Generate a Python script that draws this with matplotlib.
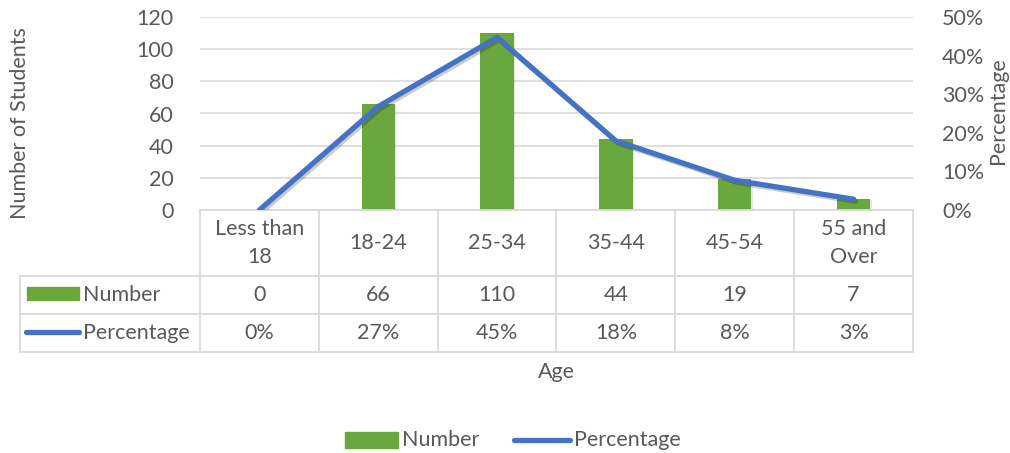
import numpy as np
import matplotlib.pyplot as plt
import matplotlib.patheffects as pe
from matplotlib.lines import Line2D
from matplotlib.patches import Rectangle

# data
age_groups = ["Less than\n18", "18-24", "25-34", "35-44", "45-54", "55 and\nOver"]
number = [0, 66, 110, 44, 19, 7]
percentage = [0.0, 0.268, 0.447, 0.179, 0.077, 0.028]
number_labels = ["0", "66", "110", "44", "19", "7"]
pct_labels = ["0%", "27%", "45%", "18%", "8%", "3%"]

green = "#6aa83f"
blue = "#4472c4"
grey_txt = "#595959"
grid_c = "#d9d9d9"
fs = 15.5

plt.rcParams['font.family'] = ['Lato', 'DejaVu Sans']

W, H = 1010, 453
fig = plt.figure(figsize=(W / 100, H / 100), dpi=100)

# plot area in pixels
x0, x1, ytop, ybot = 200, 913, 17, 210
ax = fig.add_axes([x0 / W, 1 - ybot / H, (x1 - x0) / W, (ybot - ytop) / H])
n = len(age_groups)
x = np.arange(n)

ax.bar(x, number, width=0.28, color=green, zorder=2,
       path_effects=[pe.SimplePatchShadow(offset=(1, -1), alpha=0.12), pe.Normal()])
ax.set_xlim(-0.5, n - 0.5)
ax.set_ylim(0, 120)
ax.set_yticks(range(0, 121, 20))
ax.grid(axis='y', color=grid_c, lw=1.2, zorder=0)
for s in ax.spines.values():
    s.set_visible(False)
ax.tick_params(axis='y', length=0, labelsize=fs, labelcolor=grey_txt, pad=19)
ax.set_xticks([])

ax2 = ax.twinx()
ax2.plot(x, percentage, color=blue, lw=3.8, solid_capstyle='round', zorder=3,
         path_effects=[pe.SimpleLineShadow(offset=(1.5, -1.5), alpha=0.2), pe.Normal()])
ax2.set_ylim(0, 0.5)
ax2.set_yticks(np.arange(0, 0.51, 0.1))
ax2.set_yticklabels([f"{int(round(v * 100))}%" for v in np.arange(0, 0.51, 0.1)])
for s in ax2.spines.values():
    s.set_visible(False)
ax2.tick_params(axis='y', length=0, labelsize=fs, labelcolor=grey_txt, pad=21)

fig.text(20 / W, 1 - 123 / H, "Number of Students", rotation=90, ha='center', va='center',
         fontsize=fs, color=grey_txt)
fig.text(998 / W, 1 - 111 / H, "Percentage", rotation=90, ha='center', va='center',
         fontsize=fs, color=grey_txt)

# data table below the plot (x in data units, y in axes fraction)
tr = ax.get_xaxis_transform()
ph = ybot - ytop
y_head = -(276 - ybot) / ph
y_num = -(314 - ybot) / ph
y_pct = -(352 - ybot) / ph
xl = (20 - x0) / ((x1 - x0) / n) - 0.5
lkw = dict(transform=tr, color=grid_c, lw=1.3, clip_on=False)

ax.add_line(Line2D([-0.5, n - 0.5], [0, 0], **lkw))
for yy in [y_head, y_num, y_pct]:
    ax.add_line(Line2D([xl, n - 0.5], [yy, yy], **lkw))
for i in range(n + 1):
    ax.add_line(Line2D([i - 0.5, i - 0.5], [0, y_pct], **lkw))
ax.add_line(Line2D([xl, xl], [y_head, y_pct], **lkw))

for i in range(n):
    ax.text(i, y_head / 2, age_groups[i], transform=tr, ha='center', va='center',
            fontsize=fs, color=grey_txt, linespacing=1.45)
    ax.text(i, (y_head + y_num) / 2, number_labels[i], transform=tr, ha='center',
            va='center', fontsize=fs, color=grey_txt)
    ax.text(i, (y_num + y_pct) / 2, pct_labels[i], transform=tr, ha='center',
            va='center', fontsize=fs, color=grey_txt)

# legend keys inside the table
cw = (x1 - x0) / n
def px2x(px):
    return (px - x0) / cw - 0.5
def py2y(py):
    return -(py - ybot) / ph

ax.add_patch(Rectangle((px2x(27), py2y(300)), px2x(79) - px2x(27), py2y(287) - py2y(300),
                       transform=tr, color=green, clip_on=False))
ax.text(px2x(83), (y_head + y_num) / 2, "Number", transform=tr, ha='left', va='center',
        fontsize=fs, color=grey_txt)
ax.add_line(Line2D([px2x(26), px2x(79)], [py2y(332), py2y(332)], transform=tr, color=blue,
                   lw=3.8, solid_capstyle='round', clip_on=False))
ax.text(px2x(83), (y_num + y_pct) / 2, "Percentage", transform=tr, ha='left', va='center',
        fontsize=fs, color=grey_txt)

fig.text(556 / W, 1 - 372 / H, "Age", ha='center', va='center', fontsize=fs, color=grey_txt)

# bottom legend
ly = 1 - 440 / H
fig.patches.append(Rectangle((345 / W, 1 - 448 / H), 53 / W, 16 / H, transform=fig.transFigure,
                             color=green))
fig.text(402 / W, ly, "Number", ha='left', va='center', fontsize=fs, color=grey_txt)
fig.lines.append(Line2D([514 / W, 570 / W], [ly, ly], transform=fig.transFigure, color=blue,
                        lw=3.8, solid_capstyle='round'))
fig.text(574 / W, ly, "Percentage", ha='left', va='center', fontsize=fs, color=grey_txt)

fig.savefig("out.png", dpi=100)
